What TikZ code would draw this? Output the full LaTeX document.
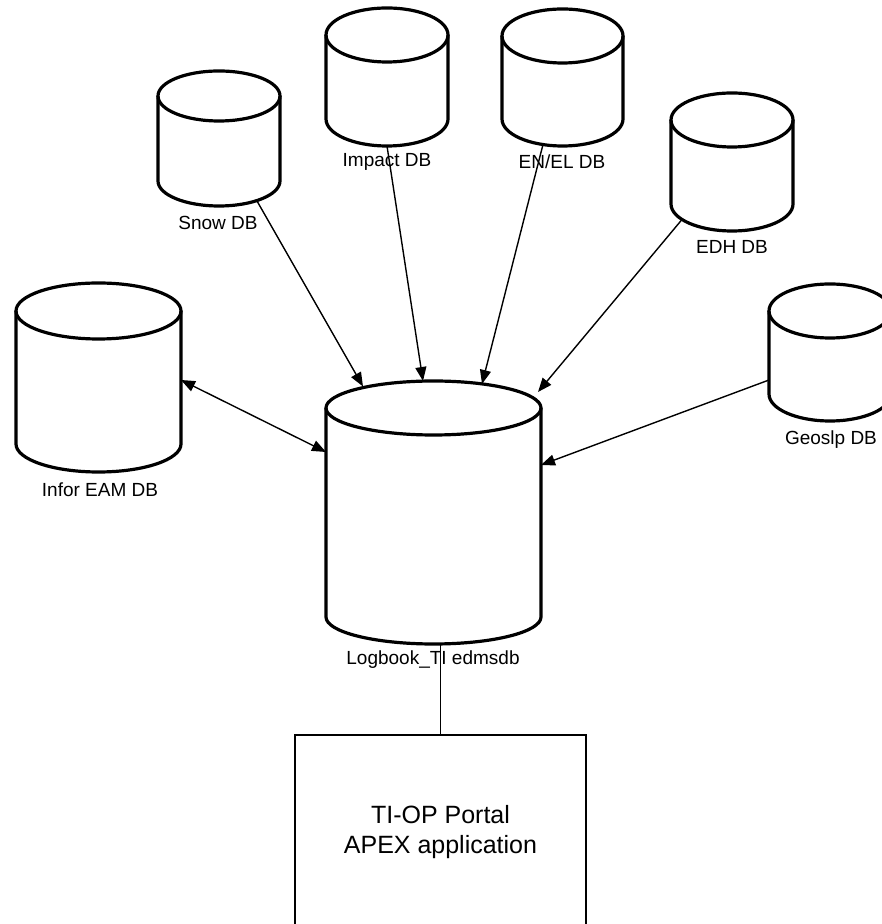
\documentclass[tikz,border=0pt]{standalone}
\usepackage{fontspec}
\setmainfont{Liberation Sans}
\usetikzlibrary{arrows.meta,calc}

\tikzset{
  cylnode/.style={rectangle, inner sep=0pt, outer sep=0pt, draw=none},
  cylline/.style={line width=3.2pt, black},
  lbl/.style={inner sep=0pt, font=\fontsize{19}{22}\selectfont},
  conn/.style={line width=1.4pt, -{Triangle[length=14pt,width=11pt]}},
  conntwo/.style={line width=1.4pt, {Triangle[length=14pt,width=11pt]}-{Triangle[length=14pt,width=11pt]}},
  plainline/.style={line width=1.8pt},
  appbox/.style={rectangle, draw, line width=2.2pt, align=center, inner sep=0pt,
    font=\fontsize{25}{30}\selectfont}
}

% #1 name, #2 centre x, #3 top y (px, downward), #4 bottom y (px, downward), #5 width, #6 ellipse y radius
\newcommand\dbcyl[6]{%
  \pgfmathsetmacro\cyly{924-(#3+#4)/2}%
  \pgfmathsetmacro\cylh{#4-#3}%
  \node[cylnode, minimum width=#5, minimum height=\cylh] (#1) at (#2,\cyly) {};
  \draw[cylline] ([yshift=-#6]#1.north west) -- ([yshift=#6]#1.south west)
     arc[start angle=180, end angle=360, x radius=#5/2, y radius=#6]
     -- ([yshift=-#6]#1.north east);
  \draw[cylline] ([yshift=-#6]#1.north) ellipse [x radius=#5/2, y radius=#6];
}

\begin{document}
\begin{tikzpicture}[x=1pt,y=1pt]
\useasboundingbox (0,0) rectangle (882,924);
\clip (0,0) rectangle (882,924);
\fill[white] (0,0) rectangle (882,924);

% database cylinders
\dbcyl{snow}{219}{71}{206}{122}{25}
\dbcyl{impact}{387}{8}{146}{122}{27}
\dbcyl{enel}{562.5}{9}{146}{121}{27}
\dbcyl{edh}{732}{93}{231}{122}{27}
\dbcyl{infor}{98.5}{283}{472}{165}{28}
\dbcyl{log}{433.5}{381}{644}{215}{27}
\dbcyl{geo}{830}{284}{421}{122}{27}

% labels
\node[lbl] (snowlbl) at (218,701) {Snow DB};
\node[lbl] (impactlbl) at (387,762) {Impact DB};
\node[lbl] (enellbl) at (562,762) {EN/EL DB};
\node[lbl] (edhlbl) at (732,677) {EDH DB};
\node[lbl] (inforlbl) at (100,434) {Infor EAM DB};
\node[lbl] (geolbl) at (831,484) {Geoslp DB};
\node[lbl] (loglbl) at (433,264) {Logbook\_TI edmsdb};

% application box
\node[appbox, minimum width=291, minimum height=194] (box) at (440.5,92)
  {TI-OP Portal\\APEX application};

% connectors
\draw[conn] ([shift={(38,5)}]snow.south) -- ([shift={(-70.5,-5.5)}]log.north);
\draw[conn] (impact.south) -- ([shift={(-10.5,0)}]log.north);
\draw[conn] ([shift={(-19.5,1.5)}]enel.south) -- ([shift={(48.5,-3)}]log.north);
\draw[conn] ([shift={(-50,11.5)}]edh.south) -- ([shift={(104.5,-11)}]log.north);
\draw[conn] ([yshift=-27.5]geo.west) -- ([yshift=47.5]log.east);
\draw[conntwo] ([yshift=-2.5]infor.east) -- ([yshift=60.5]log.west);
\draw[plainline] (box.north) -- (box.north |- log.south);
\end{tikzpicture}
\end{document}
